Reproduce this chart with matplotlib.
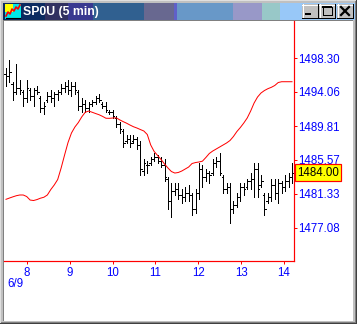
import matplotlib
matplotlib.use('Agg')
import matplotlib.pyplot as plt
from matplotlib.patches import Rectangle
import numpy as np

# ---------------- data ----------------
title = 'SP0U (5 min)'
date_label = '6/9'
hour_labels = ['8', '9', '10', '11', '12', '13', '14']
hours = [8, 9, 10, 11, 12, 13, 14]
y_ticks = [1498.30, 1494.06, 1489.81, 1485.57, 1481.33, 1477.08]
last_price = 1484.00

highs = [1497.00, 1498.00, 1495.25, 1497.50, 1495.50, 1494.25, 1495.50, 1494.50, 1494.50, 1494.75,
         1493.50, 1492.75, 1494.00, 1494.25, 1494.00, 1494.25, 1495.00, 1495.25, 1495.50, 1495.25,
         1495.25, 1494.25, 1493.25, 1493.00, 1492.75, 1493.00, 1493.50, 1493.75, 1492.75, 1492.75,
         1491.75, 1491.75, 1491.00, 1490.25, 1489.50, 1488.75, 1488.75, 1488.75, 1488.50, 1488.00,
         1485.75, 1485.50, 1486.00, 1486.50, 1486.25, 1486.00, 1485.75, 1483.50, 1482.75, 1482.75,
         1482.75, 1482.00, 1482.25, 1482.50, 1481.50, 1482.00, 1485.25, 1485.00, 1484.50, 1484.25,
         1485.75, 1486.00, 1486.50, 1483.75, 1482.75, 1482.75, 1480.50, 1481.50, 1482.75, 1482.75,
         1483.25, 1484.00, 1485.25, 1485.25, 1483.75, 1481.50, 1481.50, 1483.25, 1483.25, 1483.25,
         1483.00, 1483.75, 1484.00, 1485.25]
lows = [1494.75, 1495.25, 1493.00, 1493.75, 1493.75, 1492.25, 1492.75, 1493.00, 1492.25, 1493.75,
        1491.50, 1491.25, 1492.75, 1492.75, 1492.25, 1493.00, 1493.75, 1494.00, 1493.75, 1493.50,
        1493.75, 1491.75, 1491.50, 1491.50, 1491.50, 1492.25, 1492.50, 1492.75, 1492.00, 1491.50,
        1491.25, 1490.75, 1489.75, 1489.00, 1487.25, 1487.75, 1487.25, 1487.75, 1487.00, 1483.75,
        1483.75, 1484.00, 1485.00, 1485.50, 1485.25, 1484.75, 1483.00, 1479.50, 1478.50, 1481.25,
        1480.75, 1480.25, 1480.50, 1480.50, 1478.75, 1479.00, 1480.75, 1482.25, 1483.00, 1482.75,
        1483.75, 1484.75, 1483.75, 1481.50, 1481.50, 1477.75, 1479.00, 1479.75, 1480.50, 1481.25,
        1482.00, 1482.00, 1481.00, 1481.00, 1482.25, 1478.75, 1480.25, 1480.50, 1480.75, 1480.25,
        1481.50, 1481.75, 1482.25, 1482.75]
opens = [1496.25, 1496.00, 1495.00, 1494.00, 1494.50, 1494.00, 1493.25, 1494.25, 1493.50, 1494.25,
         1493.25, 1492.00, 1493.00, 1493.50, 1493.25, 1493.75, 1494.00, 1494.50, 1494.75, 1494.25,
         1494.75, 1494.00, 1492.25, 1492.50, 1492.00, 1492.50, 1492.75, 1493.25, 1492.50, 1492.25,
         1491.50, 1491.50, 1490.75, 1490.00, 1489.25, 1488.00, 1488.25, 1488.00, 1488.25, 1487.50,
         1484.25, 1485.00, 1485.25, 1485.75, 1486.00, 1485.50, 1485.00, 1483.25, 1480.50, 1481.75,
         1482.00, 1481.25, 1481.00, 1481.50, 1481.25, 1479.50, 1481.50, 1484.50, 1483.50, 1484.00,
         1484.00, 1485.25, 1485.50, 1483.50, 1482.00, 1482.25, 1479.50, 1480.00, 1481.00, 1482.25,
         1482.25, 1483.00, 1483.25, 1484.50, 1482.50, 1481.25, 1480.50, 1481.00, 1482.50, 1481.50,
         1482.75, 1482.25, 1483.00, 1483.50]
closes = [1496.00, 1496.50, 1494.00, 1494.50, 1494.25, 1493.25, 1494.50, 1493.50, 1494.25, 1494.00,
          1492.00, 1492.25, 1493.50, 1493.25, 1493.75, 1494.00, 1494.50, 1494.75, 1494.25, 1494.75,
          1494.25, 1492.25, 1492.50, 1492.00, 1492.50, 1492.75, 1493.25, 1493.00, 1492.25, 1491.75,
          1491.50, 1491.00, 1490.00, 1489.50, 1487.75, 1488.25, 1487.75, 1488.25, 1487.50, 1484.50,
          1485.25, 1485.00, 1485.75, 1486.00, 1485.50, 1485.00, 1483.50, 1480.50, 1481.75, 1482.00,
          1481.25, 1481.00, 1481.50, 1481.25, 1479.50, 1481.50, 1484.50, 1483.50, 1484.00, 1483.75,
          1485.25, 1485.50, 1484.00, 1482.00, 1482.25, 1479.50, 1480.00, 1481.00, 1482.25, 1482.00,
          1483.00, 1483.25, 1484.50, 1482.00, 1483.00, 1479.50, 1481.00, 1482.50, 1481.50, 1482.75,
          1482.25, 1483.00, 1483.50, 1484.00]
ma_line = [1480.66, 1480.82, 1480.97, 1481.11, 1481.20, 1481.20, 1481.01, 1480.57, 1480.51, 1480.63,
           1480.80, 1480.92, 1481.20, 1481.88, 1482.45, 1483.13, 1484.57, 1486.19, 1487.75, 1488.94,
           1489.69, 1490.25, 1490.96, 1491.53, 1491.68, 1491.53, 1491.37, 1491.22, 1491.02, 1490.78,
           1490.77, 1490.81, 1490.83, 1490.58, 1490.36, 1490.16, 1489.93, 1489.72, 1489.56, 1489.37,
           1489.19, 1488.75, 1487.44, 1486.63, 1486.13, 1485.63, 1485.07, 1484.57, 1484.13, 1483.94,
           1484.01, 1484.19, 1484.44, 1484.69, 1485.13, 1485.25, 1485.32, 1485.42, 1485.88, 1486.38,
           1486.69, 1486.94, 1487.19, 1487.44, 1487.69, 1488.00, 1488.50, 1489.12, 1489.62, 1490.18,
           1490.81, 1491.68, 1492.68, 1493.43, 1493.93, 1494.24, 1494.47, 1494.64, 1494.87, 1495.24,
           1495.34, 1495.34, 1495.34, 1495.34]

# ---------------- layout ----------------
W, H = 357, 324
PX = 0.72  # 1 pixel in points
plt.rcParams['font.family'] = ['Liberation Sans', 'DejaVu Sans']
fig = plt.figure(figsize=(W / 100, H / 100), dpi=100, facecolor='#c0c0c0')

bg = fig.add_axes([0, 0, 1, 1])
bg.set_xlim(0, W)
bg.set_ylim(H, 0)
bg.axis('off')


def rect(x0, y0, x1, y1, fc, ec='none', lw=0, z=1):
    bg.add_patch(Rectangle((x0, y0), x1 - x0, y1 - y0, facecolor=fc, edgecolor=ec,
                           linewidth=lw, zorder=z, antialiased=False))


# window frame
rect(0, 0, W, H, '#c0c0c0')
rect(0, 0, W, 1, '#dfdfdf')
rect(0, 0, 1, H, '#dfdfdf')
rect(W - 1, 0, W, H, '#404040')
rect(0, H - 1, W, H, '#404040')
rect(W - 2, 1, W - 1, H - 1, '#808080')
rect(1, H - 2, W - 1, H - 1, '#808080')
# client area
rect(3, 20, 353, 321, '#808080')
rect(4, 21, 353, 321, 'white')

# title bar bands
bands = [(3, 22, '#0b2a60'), (22, 45, '#0b2a60'), (45, 68, '#303060'), (68, 93, '#383890'),
         (93, 144, '#306090'), (144, 174, '#686890'), (174, 177, '#6060c8'),
         (177, 233, '#6898c8'), (233, 262, '#9898c8'), (262, 280, '#98c8c8'),
         (280, 355, '#98c8f8')]
for x0, x1, c in bands:
    rect(x0, 3, x1, 20, c)

# icon
rect(5, 4, 21, 19, '#00e8e8', z=2)
rect(5, 4, 13, 12, '#ffff00', z=2)
bg.plot([6, 8, 10, 12, 14, 16, 18, 20], [16, 12, 14, 9, 11, 7, 9, 5], color='red', lw=1.2, zorder=3)
bg.plot([6, 20], [18, 18], color='black', lw=0.8, zorder=3)

bg.text(23, 11.8, title, color='white', fontsize=8.8, fontweight='bold',
        ha='left', va='center', zorder=3)

# caption buttons
for bx in (302, 319, 337):
    rect(bx, 4, bx + 16, 18, '#c0c0c0', z=2)
    bg.plot([bx, bx + 16], [4.5, 4.5], color='white', lw=PX, zorder=3)
    bg.plot([bx + 0.5, bx + 0.5], [4, 18], color='white', lw=PX, zorder=3)
    bg.plot([bx, bx + 16], [17.5, 17.5], color='black', lw=PX, zorder=3)
    bg.plot([bx + 15.5, bx + 15.5], [4, 18], color='black', lw=PX, zorder=3)
rect(305, 13, 311, 15, 'black', z=4)
bg.add_patch(Rectangle((322.5, 6.5), 9, 8, facecolor='none', edgecolor='black',
                       linewidth=PX, zorder=4, antialiased=False))
rect(322, 6, 332, 8, 'black', z=4)
bg.plot([341, 349], [7, 15], color='black', lw=1.6, zorder=4)
bg.plot([341, 349], [15, 7], color='black', lw=1.6, zorder=4)

bg.text(7, 284, date_label, color='#0000ff', fontsize=8.3, ha='left', va='center')

# ---------------- chart axes ----------------
ax = fig.add_axes([4 / W, 63 / H, 290 / W, 240 / H])
ax.patch.set_alpha(0)
ax.set_xlim(-0.58, 83.58)
ax.set_ylim(1472.96, 1502.92)

x = np.arange(len(highs))
ax.vlines(x, lows, highs, color='black', lw=PX, antialiased=False)
ax.hlines(opens, x - 0.45, x, color='black', lw=PX, antialiased=False)
ax.hlines(closes, x, x + 0.45, color='black', lw=PX, antialiased=False)
ax.plot(x, ma_line, color='#ff0000', lw=PX)

for s in ('top', 'left'):
    ax.spines[s].set_visible(False)
for s in ('right', 'bottom'):
    ax.spines[s].set_color('#ff0000')
    ax.spines[s].set_linewidth(PX * 1.2)

ax.yaxis.tick_right()
ax.set_yticks(y_ticks)
ax.set_yticklabels(['%.2f' % v for v in y_ticks])
# hour -> bar position mapping
hour_pos = [6.09 + (h - 8) * 12.43 for h in hours]
ax.set_xticks(hour_pos)
ax.set_xticklabels(hour_labels)
ax.tick_params(axis='both', colors='#ff0000', labelcolor='#0000ff', labelsize=8.3,
               length=3 * PX, width=PX)
ax.tick_params(axis='y', pad=1.0)
ax.tick_params(axis='x', pad=2.0)

ax.annotate('%.2f' % last_price, xy=(1.0, last_price), xycoords=('axes fraction', 'data'),
            xytext=(2.3, 0), textcoords='offset points', ha='left', va='center',
            fontsize=8.3, color='black',
            bbox=dict(boxstyle='square,pad=0.18', fc='#ffff00', ec='#ff0000', lw=PX * 1.2))

fig.savefig('out.png', dpi=100, facecolor=fig.get_facecolor())
